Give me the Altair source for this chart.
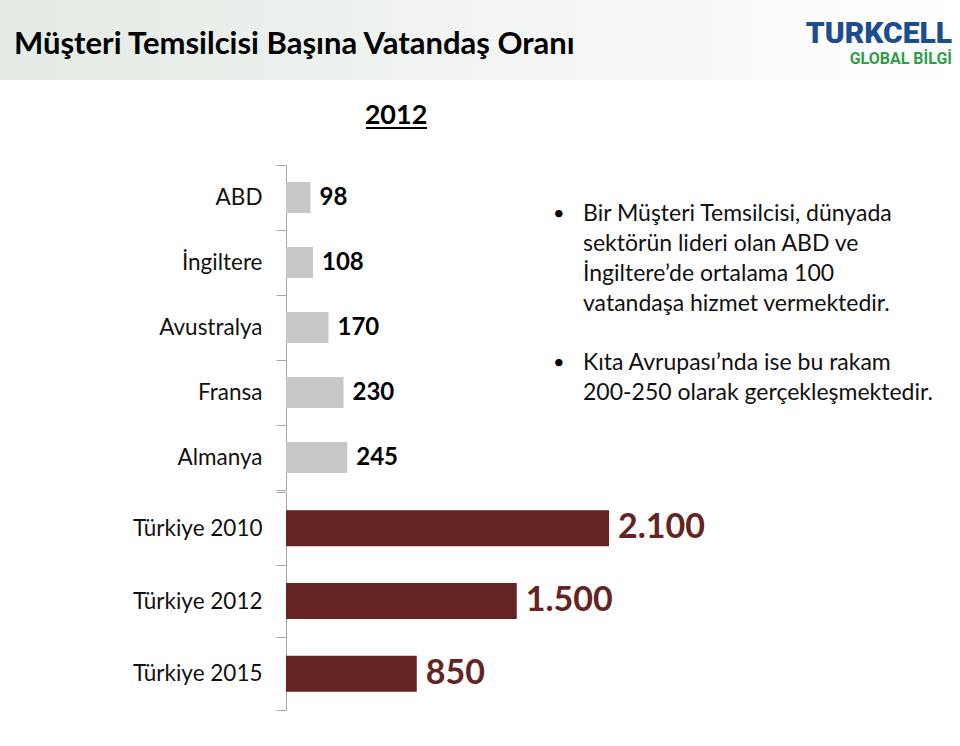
import altair as alt
import pandas as pd

# ---------------- data ----------------
title_text = "Müşteri Temsilcisi Başına Vatandaş Oranı"
year_text = "2012"
logo_main = "TURKCELL"
logo_sub = "GLOBAL BİLGİ"

top_categories = ["ABD", "İngiltere", "Avustralya", "Fransa", "Almanya"]
top_values = [98, 108, 170, 230, 245]
top_labels = ["98", "108", "170", "230", "245"]

bottom_categories = ["Türkiye 2010", "Türkiye 2012", "Türkiye 2015"]
bottom_values = [2100, 1500, 850]
bottom_labels = ["2.100", "1.500", "850"]

bullet_1 = ["Bir Müşteri Temsilcisi, dünyada",
            "sektörün lideri olan ABD ve",
            "İngiltere’de ortalama 100",
            "vatandaşa hizmet vermektedir."]
bullet_2 = [" Kıta Avrupası’nda ise bu rakam",
            "200-250 olarak gerçekleşmektedir."]

# ---------------- styles ----------------
FONT = "Lato"
GRAY = "#c8c8c8"
MAROON = "#632423"
AXIS_GRAY = "#a6a6a6"

top_df = pd.DataFrame({"cat": top_categories, "val": top_values, "lbl": top_labels})
bot_df = pd.DataFrame({"cat": bottom_categories, "val": bottom_values, "lbl": bottom_labels})


def y_axis():
    return alt.Axis(title=None, tickBand="extent", tickSize=10, tickColor=AXIS_GRAY,
                    domainColor=AXIS_GRAY, labelFont=FONT, labelFontSize=22.5,
                    labelColor="#111111", labelPadding=14, labelLimit=300, grid=False)


def one_row(text):
    return alt.Data(values=[{"t": text}])


# header band
gradient = alt.LinearGradient(
    gradient="linear",
    stops=[alt.GradientStop(color="#e4eae4", offset=0),
           alt.GradientStop(color="#ffffff", offset=1)],
    x1=0, x2=1, y1=0, y2=0)
header = alt.Chart(one_row("")).mark_rect(color=gradient).encode(
    x=alt.value(-286), x2=alt.value(674), y=alt.value(-165), y2=alt.value(-85))

title = alt.Chart(one_row(title_text)).mark_text(
    align="left", baseline="alphabetic", font=FONT, fontSize=31, fontWeight="bold",
    color="#000000").encode(text="t:N", x=alt.value(-272), y=alt.value(-111))

logo1 = alt.Chart(one_row(logo_main)).mark_text(
    align="right", baseline="alphabetic", font="Roboto", fontSize=30, fontWeight=900,
    color="#1d4e8c").encode(text="t:N", x=alt.value(666), y=alt.value(-122))

logo2 = alt.Chart(one_row(logo_sub)).mark_text(
    align="right", baseline="alphabetic", font="Roboto", fontSize=16, fontWeight="bold",
    color="#2e9e48").encode(text="t:N", x=alt.value(666), y=alt.value(-101))

year = alt.Chart(one_row(year_text)).mark_text(
    align="center", baseline="alphabetic", font=FONT, fontSize=27, fontWeight="bold",
    color="#000000").encode(text="t:N", x=alt.value(110), y=alt.value(-41))

underline = alt.Chart(one_row("")).mark_rule(color="#000000", strokeWidth=2).encode(
    x=alt.value(80), x2=alt.value(141), y=alt.value(-37))

b1_dot = alt.Chart(one_row("•")).mark_text(
    align="left", baseline="alphabetic", font=FONT, fontSize=20, color="#000000").encode(
    text="t:N", x=alt.value(267), y=alt.value(55))
b1 = alt.Chart(one_row("\n".join(bullet_1))).mark_text(
    align="left", baseline="alphabetic", font=FONT, fontSize=23, lineBreak="\n",
    lineHeight=30, color="#111111").encode(text="t:N", x=alt.value(297), y=alt.value(56))

b2_dot = alt.Chart(one_row("•")).mark_text(
    align="left", baseline="alphabetic", font=FONT, fontSize=20, color="#000000").encode(
    text="t:N", x=alt.value(267), y=alt.value(204))
b2 = alt.Chart(one_row("\n".join(bullet_2))).mark_text(
    align="left", baseline="alphabetic", font=FONT, fontSize=23, lineBreak="\n",
    lineHeight=30, color="#111111").encode(text="t:N", x=alt.value(297), y=alt.value(205))

# top bar chart
top_base = alt.Chart(top_df).encode(
    y=alt.Y("cat:N", sort=top_categories, axis=y_axis(),
            scale=alt.Scale(paddingInner=0, paddingOuter=0)),
    x=alt.X("val:Q", axis=None, scale=alt.Scale(domain=[0, 1600], nice=False)),
)
top_bars = top_base.mark_bar(color=GRAY, size=31)
top_text = top_base.mark_text(align="left", baseline="middle", dx=9, font=FONT,
                              fontSize=24, fontWeight="bold", color="#000000").encode(text="lbl:N")

top = alt.layer(header, title, logo1, logo2, year, underline, b1_dot, b1, b2_dot, b2,
                top_bars, top_text).properties(width=400, height=325)

# bottom bar chart
bot_base = alt.Chart(bot_df).encode(
    y=alt.Y("cat:N", sort=bottom_categories, axis=y_axis(),
            scale=alt.Scale(paddingInner=0, paddingOuter=0)),
    x=alt.X("val:Q", axis=None, scale=alt.Scale(domain=[0, 2600], nice=False)),
)
bot_bars = bot_base.mark_bar(color=MAROON, size=36)
bot_text = bot_base.mark_text(align="left", baseline="middle", dx=9, font=FONT,
                              fontSize=34, fontWeight="bold", color=MAROON).encode(text="lbl:N")
bottom = alt.layer(bot_bars, bot_text).properties(width=400, height=218)

chart = alt.vconcat(top, bottom, spacing=-10).properties(padding=0).configure_view(stroke=None)

chart.save("out.html", embed_options={"renderer": "svg", "actions": False})
